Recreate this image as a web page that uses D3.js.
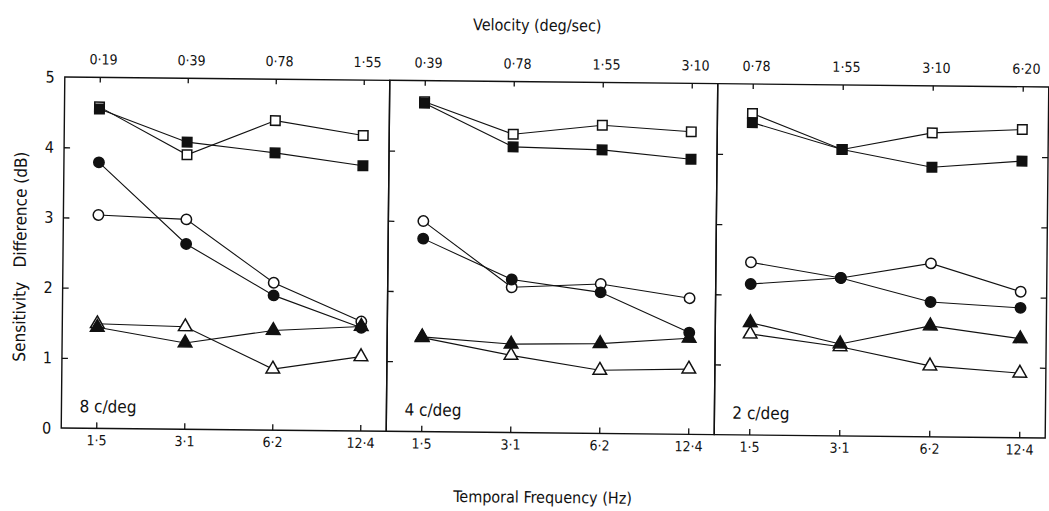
<!DOCTYPE html>
<html>
<head>
<meta charset="utf-8">
<script src="https://cdn.jsdelivr.net/npm/d3@7"></script>
<style>
  body { margin: 0; background: #fff; }
  svg text { font-family: "Liberation Sans Narrow", "DejaVu Sans Condensed", "Liberation Sans", sans-serif; fill: #111; }
</style>
</head>
<body>
<svg id="chart"></svg>
<script>
// temporal frequency ticks (bottom) and velocity ticks (top), per panel
const freqLabels = ["1·5", "3·1", "6·2", "12·4"];
const velocityLabels = [
  ["0·19", "0·39", "0·78", "1·55"],
  ["0·39", "0·78", "1·55", "3·10"],
  ["0·78", "1·55", "3·10", "6·20"]
];
const panelLabels = ["8 c/deg", "4 c/deg", "2 c/deg"];
const yTicks = [0, 1, 2, 3, 4, 5];

// sensitivity difference (dB), one row per panel (8, 4, 2 c/deg)
const openSquare     = [[4.58, 3.91, 4.41, 4.21], [4.70, 4.25, 4.39, 4.31], [4.58, 4.08, 4.33, 4.39]];
const filledSquare   = [[4.55, 4.09, 3.95, 3.78], [4.68, 4.07, 4.04, 3.92], [4.45, 4.08, 3.84, 3.94]];
const openCircle     = [[3.04, 2.99, 2.10, 1.56], [3.00, 2.07, 2.13, 1.94], [2.46, 2.25, 2.47, 2.08]];
const filledCircle   = [[3.79, 2.64, 1.92, 1.47], [2.75, 2.18, 2.01, 1.45], [2.15, 2.25, 1.92, 1.85]];
const filledTriangle = [[1.44, 1.23, 1.42, 1.49], [1.35, 1.26, 1.28, 1.37], [1.60, 1.31, 1.58, 1.41]];
const openTriangle   = [[1.49, 1.46, 0.87, 1.06], [1.34, 1.10, 0.90, 0.93], [1.44, 1.27, 1.01, 0.92]];

let width = 1049;
let height = 511;

let lefts = [63, 388, 716];
let rights = [388, 716, 1047];
let frameTop = 82;
let frameBottom = 433;

let series = [
  {values: openSquare, shape: d3.symbolSquare, size: 90, fill: "#fff"},
  {values: filledSquare, shape: d3.symbolSquare, size: 90, fill: "#111"},
  {values: openCircle, shape: d3.symbolCircle, size: 85, fill: "#fff"},
  {values: filledCircle, shape: d3.symbolCircle, size: 85, fill: "#111"},
  {values: openTriangle, shape: d3.symbolTriangle, size: 80, fill: "#fff"},
  {values: filledTriangle, shape: d3.symbolTriangle, size: 80, fill: "#111"}
];

let y = d3.scaleLinear()
  .domain([0, 5])
  .range([frameBottom, frameTop]);

const svg = d3.select('#chart').attr('width', width).attr('height', height);

// the original is a slightly tilted scan
const root = svg.append('g').attr('transform', 'rotate(0.58,554,257)');

root.append('text')
  .attr('x', 535).attr('y', 31)
  .attr('text-anchor', 'middle')
  .attr('font-size', 16)
  .text('Velocity (deg/sec)');

root.append('text')
  .attr('x', 545).attr('y', 503)
  .attr('text-anchor', 'middle')
  .attr('font-size', 16)
  .text('Temporal Frequency (Hz)');

root.append('text')
  .attr('transform', 'translate(26,262) rotate(-90)')
  .attr('text-anchor', 'middle')
  .attr('font-size', 17)
  .style('white-space', 'pre')
  .text('Sensitivity   Difference (dB)');

[0, 1, 2].forEach(p => {
  let x = d3.scalePoint()
    .domain(freqLabels)
    .range([lefts[p] + 35, rights[p] - 26]);

  const g = root.append('g').attr('class', 'panel');

  g.append('rect')
    .attr('x', lefts[p]).attr('y', frameTop)
    .attr('width', rights[p] - lefts[p]).attr('height', frameBottom - frameTop)
    .attr('fill', 'none')
    .attr('stroke', '#111')
    .attr('stroke-width', 1.4);

  // left axis, ticks pointing inwards; only the first panel carries labels
  const yAx = g.append('g')
    .attr('transform', `translate(${lefts[p]},0)`)
    .call(d3.axisLeft(y).tickValues(p === 0 ? yTicks : [1, 2, 3, 4]).tickFormat(d3.format('d')).tickSize(-6).tickPadding(10));
  yAx.select('.domain').remove();
  yAx.selectAll('.tick line').attr('stroke', '#111').attr('stroke-width', 1.3);
  yAx.selectAll('.tick text').attr('font-size', 16);
  if (p !== 0) yAx.selectAll('.tick text').remove();
  if (p === 0) yAx.selectAll('.tick line').filter(d => d === 0 || d === 5).remove();

  if (p === 2) {
    const yR = g.append('g')
      .attr('transform', `translate(${rights[p]},0)`)
      .call(d3.axisRight(y).tickValues([1, 2, 3, 4]).tickSize(-6));
    yR.select('.domain').remove();
    yR.selectAll('.tick text').remove();
    yR.selectAll('.tick line').attr('stroke', '#111').attr('stroke-width', 1.3);
  }

  const xAx = g.append('g')
    .attr('transform', `translate(0,${frameBottom})`)
    .call(d3.axisBottom(x).tickSize(-6).tickPadding(7));
  xAx.select('.domain').remove();
  xAx.selectAll('.tick line').attr('stroke', '#111').attr('stroke-width', 1.3);
  xAx.selectAll('.tick text').attr('font-size', 14);

  let xTop = d3.scalePoint()
    .domain(velocityLabels[p])
    .range(x.range());

  const tAx = g.append('g')
    .attr('transform', `translate(0,${frameTop})`)
    .call(d3.axisTop(xTop).tickSize(-5).tickPadding(13));
  tAx.select('.domain').remove();
  tAx.selectAll('.tick line').attr('stroke', '#111').attr('stroke-width', 1.3);
  tAx.selectAll('.tick text').attr('font-size', 14).attr('dx', 3);

  g.append('text')
    .attr('x', lefts[p] + 18)
    .attr('y', frameBottom - 16)
    .attr('font-size', 17)
    .text(panelLabels[p]);

  let line = d3.line()
    .x((d, i) => x(freqLabels[i]))
    .y(d => y(d));

  series.forEach(s => {
    g.append('path')
      .datum(s.values[p])
      .attr('d', line)
      .attr('fill', 'none')
      .attr('stroke', '#111')
      .attr('stroke-width', 1.1);
  });

  series.forEach(s => {
    g.selectAll(null)
      .data(s.values[p])
      .enter()
      .append('path')
      .attr('transform', (d, i) => `translate(${x(freqLabels[i])},${y(d)})`)
      .attr('d', d3.symbol().type(s.shape).size(s.size))
      .attr('fill', s.fill)
      .attr('stroke', '#111')
      .attr('stroke-width', 1.5);
  });
});
</script>
</body>
</html>
